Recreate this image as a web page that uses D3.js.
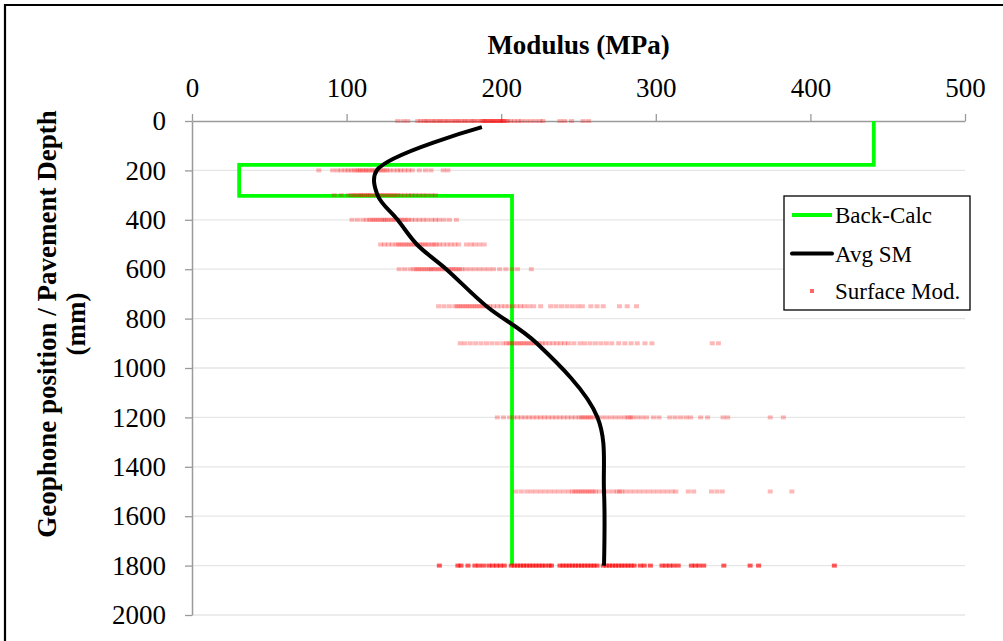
<!DOCTYPE html>
<html>
<head>
<meta charset="utf-8">
<script src="https://cdnjs.cloudflare.com/ajax/libs/d3/7.8.5/d3.min.js"></script>
<style>
  html, body { margin: 0; padding: 0; background: #fff; }
  svg { display: block; }
  text { font-family: "Liberation Serif", "Times New Roman", serif; fill: #000; }
</style>
</head>
<body>
<svg id="chart" width="1003" height="641"></svg>
<script>
// ---- data ----
const xTicks = [0, 100, 200, 300, 400, 500];
const yTicks = [0, 200, 400, 600, 800, 1000, 1200, 1400, 1600, 1800, 2000];

// Back-calculated layer moduli (step profile)
const backCalcDepth   = [0, 178, 178, 303, 303, 1800];
const backCalcModulus = [441, 441, 30.5, 30.5, 207, 207];

// Average surface modulus per geophone position
const avgDepth   = [25, 200, 300, 400, 500, 600, 750, 900, 1200, 1500, 1800];
const avgModulus = [187.5, 119.5, 120, 133, 145.5, 164.5, 190.5, 223, 262.3, 266.5, 266.5];

// Individual surface modulus readings at each geophone depth
const surfaceDepths = [0, 200, 300, 400, 500, 600, 750, 900, 1200, 1500, 1800];
const surfaceModAt0 = [133, 136.5, 139.5, 146, 148, 150, 151.5, 153, 155, 156.5, 158, 160, 161, 163, 164.5,
  166, 168, 169.5, 171, 172.5, 174, 176, 177, 179, 180.5, 182, 183, 185, 186.5, 188, 188.5, 189.5, 190,
  191, 192, 193, 193.5, 194.5, 195.5, 196, 197, 198, 199, 199.5, 200.5, 201, 202, 203, 204, 206, 208.5,
  211, 213, 216, 219, 222, 225, 227, 238, 241, 245.5, 253, 256.5];
const surfaceModAt200 = [82, 91, 94, 96.5, 99, 101, 103, 105, 106.5, 108, 109, 110.5, 112, 113, 114.5, 116,
  117, 118.5, 120, 121.5, 123, 124.5, 126, 128, 130.5, 133, 135, 137.5, 140, 142.5, 147, 151, 154.5, 162.5, 165.5];
const surfaceModAt300 = [92, 96.5, 101, 103, 104.5, 106, 107.5, 109, 110, 111.5, 113, 114, 115.5, 117, 118.5,
  120, 121, 122.5, 124, 125.5, 127, 128.5, 130, 131.5, 133, 135, 137.5, 140, 142, 144.5, 147, 149.5, 152, 155, 157.5];
const surfaceModAt400 = [103.5, 107, 110.5, 113, 115, 116.5, 118, 119.5, 121, 122.5, 124, 125, 126.5, 128,
  129.5, 131, 132.5, 134, 135.5, 137, 138.5, 140, 142, 144.5, 147, 149.5, 152, 155, 157.5, 160, 163, 166.5, 171];
const surfaceModAt500 = [122, 124.5, 127, 129.5, 132, 133.5, 135, 136.5, 138, 139.5, 141, 142.5, 144, 145.5,
  147, 148.5, 150, 151.5, 153, 155, 156.5, 158, 160, 162.5, 165, 167.5, 170, 172.5, 177.5, 180.5, 183, 186, 189];
const surfaceModAt600 = [134, 137.5, 141, 143.5, 145, 146.5, 148, 149.5, 151, 152.5, 154, 155, 156.5, 158,
  159.5, 161, 162.5, 164, 165.5, 167, 168.5, 170, 171.5, 173, 174.5, 177, 180, 183, 186, 189, 192, 195, 199,
  203, 207, 210.5, 219.5];
const surfaceModAt750 = [159.5, 163, 166.5, 170, 171.5, 173, 174.5, 176, 177.5, 179, 180.5, 182, 183.5, 185,
  186.5, 188, 189.5, 191, 192.5, 195, 197.5, 200, 202.5, 205, 207.5, 210, 212.5, 215, 218, 221, 225.5, 232,
  235.5, 239, 242.5, 246, 249.5, 252.5, 258, 262, 266, 276.5, 281.5, 287.5];
const surfaceModAt900 = [173.5, 176.5, 180, 183.5, 187, 190.5, 194, 197.5, 201, 203.5, 205, 206.5, 208, 209.5,
  211, 212.5, 214, 215.5, 217, 218.5, 220, 221.5, 223, 224.5, 226.5, 228.5, 231, 233.5, 236, 238.5, 241,
  243.5, 247, 251, 254, 257.5, 261, 264.5, 268, 271.5, 276, 280, 284, 288, 293, 297.5, 336.5, 340.5];
const surfaceModAt1200 = [197.5, 201.5, 205.5, 208, 210.5, 213, 215.5, 218, 220.5, 223, 225.5, 228, 230.5, 233,
  235.5, 238, 240.5, 243, 245.5, 248, 250.5, 252, 253.5, 255, 256.5, 258, 259.5, 262, 265, 268, 271, 274,
  277, 280, 282, 283.5, 285, 288, 291, 294, 298.5, 302, 309, 312.5, 316, 319.5, 322.5, 329, 333.5, 343.5,
  346.5, 374, 382.5];
const surfaceModAt1500 = [209.5, 213, 216.5, 219.5, 222.5, 225.5, 228.5, 231.5, 234.5, 237.5, 240.5, 243.5, 246,
  247.5, 249, 250.5, 252, 253.5, 255, 256.5, 258, 259.5, 261, 263.5, 266.5, 269.5, 272.5, 275, 276.5, 278,
  280.5, 283.5, 286.5, 289.5, 292.5, 295.5, 298.5, 301.5, 304.5, 307.5, 310.5, 313, 321, 324.5, 336, 339.5,
  343, 374, 388];
const surfaceModAt1800 = [160, 172, 174, 178.5, 183, 185.5, 188.5, 192, 194.5, 197, 199.5, 202, 206.5, 208.5,
  210.5, 212.5, 214.5, 216.5, 218.5, 220.5, 222.5, 224.5, 226.5, 228.5, 231, 232.5, 238, 240, 242, 244, 246,
  248, 250, 252, 254, 256, 258, 260, 262, 266, 268, 270, 272, 274, 276, 278, 280, 282, 284, 286, 290, 292.5,
  296.5, 304, 306.5, 309, 311.5, 314.5, 323, 325.5, 328, 331, 344, 361, 366.5, 415.5];
const surfaceModRows = [surfaceModAt0, surfaceModAt200, surfaceModAt300, surfaceModAt400, surfaceModAt500,
  surfaceModAt600, surfaceModAt750, surfaceModAt900, surfaceModAt1200, surfaceModAt1500, surfaceModAt1800];

const legendLabels = ["Back-Calc", "Avg SM", "Surface Mod."];

// ---- drawing ----
const svg = d3.select("#chart");
const W = 1003, H = 641;
const plot = { left: 192, right: 965, top: 121, bottom: 615 };

const x = d3.scaleLinear().domain([0, 500]).range([plot.left, plot.right]);
const y = d3.scaleLinear().domain([0, 2000]).range([plot.top, plot.bottom]);

// outer frame (top and left edges)
svg.append("path")
  .attr("d", `M5,${H} V5 H${W}`)
  .attr("fill", "none").attr("stroke", "#000").attr("stroke-width", 2.2);

// horizontal gridlines
svg.append("g").selectAll("line")
  .data(yTicks.filter(d => d > 0))
  .join("line")
  .attr("x1", plot.left).attr("x2", plot.right)
  .attr("y1", d => y(d)).attr("y2", d => y(d))
  .attr("stroke", "#e6e6e6").attr("stroke-width", 1.3);

// axes
const axisColor = "#9a9a9a";
const xAxis = svg.append("g")
  .attr("transform", `translate(0,${plot.top})`)
  .call(d3.axisTop(x).tickValues(xTicks).tickFormat(d3.format("d"))
    .tickSize(7).tickPadding(17).tickSizeOuter(0));
const yAxis = svg.append("g")
  .attr("transform", `translate(${plot.left},0)`)
  .call(d3.axisLeft(y).tickValues(yTicks).tickFormat(d3.format("d"))
    .tickSize(7).tickPadding(19).tickSizeOuter(0));
[xAxis, yAxis].forEach(g => {
  g.select(".domain").attr("stroke", axisColor).attr("stroke-width", 1.5);
  g.selectAll(".tick line").attr("stroke", axisColor).attr("stroke-width", 1.3);
  g.selectAll(".tick text")
    .attr("font-size", 27)
    .attr("font-family", "'Liberation Serif', 'Times New Roman', serif")
    .attr("fill", "#000");
});

// axis titles
svg.append("text")
  .attr("x", (plot.left + plot.right) / 2).attr("y", 54)
  .attr("text-anchor", "middle")
  .attr("font-size", 27).attr("font-weight", "bold")
  .text("Modulus (MPa)");

const yTitle = svg.append("text")
  .attr("transform", "translate(0,324) rotate(-90)")
  .attr("text-anchor", "middle")
  .attr("font-size", 27).attr("font-weight", "bold");
yTitle.append("tspan").attr("x", 0).attr("y", 56).text("Geophone position / Pavement Depth");
yTitle.append("tspan").attr("x", 0).attr("y", 85).text("(mm)");

// back-calculated profile
const backCalcPts = backCalcDepth.map((d, i) => [backCalcModulus[i], d]);
svg.append("path")
  .datum(backCalcPts)
  .attr("d", d3.line().x(d => x(d[0])).y(d => y(d[1])))
  .attr("fill", "none").attr("stroke", "#00ff00").attr("stroke-width", 3.8)
  .attr("stroke-linejoin", "miter");

// surface modulus readings
const markerW = 5, markerH = 4;
const points = [];
surfaceDepths.forEach((depth, i) => {
  surfaceModRows[i].forEach(v => points.push({ depth, v }));
});
svg.append("g").selectAll("rect")
  .data(points)
  .join("rect")
  .attr("x", d => x(d.v) - markerW / 2)
  .attr("y", d => y(d.depth) - markerH / 2)
  .attr("width", markerW).attr("height", markerH)
  .attr("fill", "#ff0000")
  .attr("fill-opacity", d => d.depth === 1800 ? 0.65 : 0.28);

// average surface modulus curve
const avgPts = avgDepth.map((d, i) => [avgModulus[i], d]);
svg.append("path")
  .datum(avgPts)
  .attr("d", d3.line().x(d => x(d[0])).y(d => y(d[1])).curve(d3.curveCatmullRom.alpha(0.5)))
  .attr("fill", "none").attr("stroke", "#000").attr("stroke-width", 4)
  .attr("stroke-linecap", "butt");

// legend
const lg = svg.append("g");
lg.append("rect")
  .attr("x", 784).attr("y", 196).attr("width", 186).attr("height", 114)
  .attr("fill", "#fff").attr("stroke", "#000").attr("stroke-width", 1.3);
const rowY = [215, 253.5, 291];
lg.append("line").attr("x1", 792).attr("x2", 832).attr("y1", rowY[0]).attr("y2", rowY[0])
  .attr("stroke", "#00ff00").attr("stroke-width", 4);
lg.append("line").attr("x1", 792).attr("x2", 832).attr("y1", rowY[1]).attr("y2", rowY[1])
  .attr("stroke", "#000").attr("stroke-width", 4).attr("stroke-linecap", "round");
lg.append("rect").attr("x", 812 - 2).attr("y", rowY[2] - 2)
  .attr("width", 4).attr("height", 4)
  .attr("fill", "#ff0000").attr("fill-opacity", 0.6);
lg.selectAll("text.lbl")
  .data(legendLabels)
  .join("text")
  .attr("class", "lbl")
  .attr("x", 835).attr("y", (d, i) => rowY[i] + 8)
  .attr("font-size", 23)
  .text(d => d);
</script>
</body>
</html>
